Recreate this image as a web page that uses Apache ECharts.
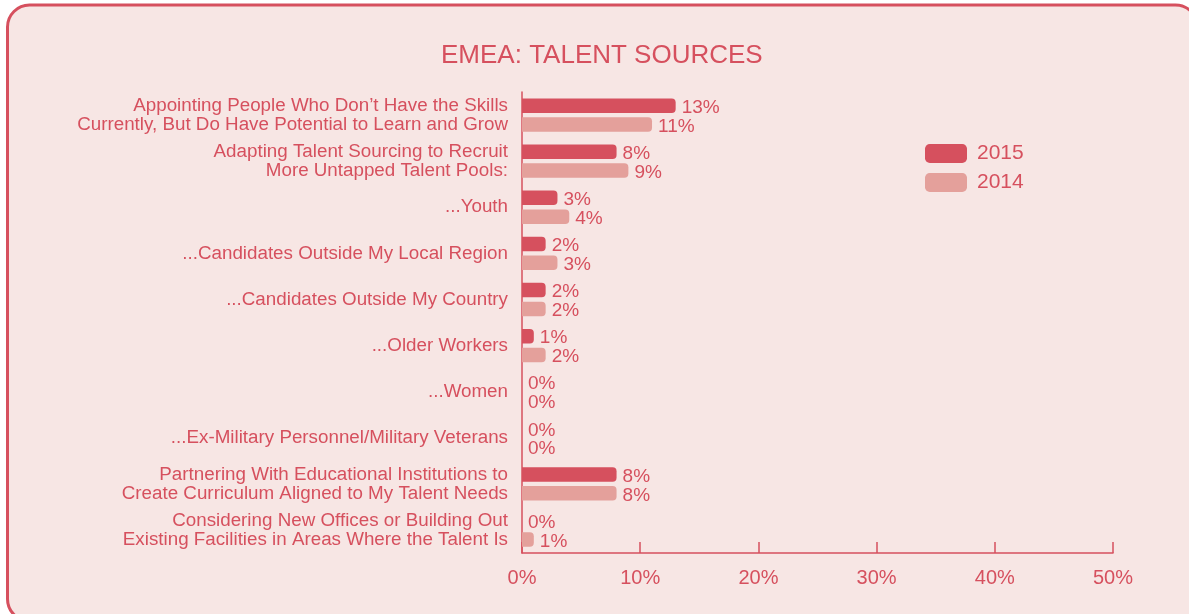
<!DOCTYPE html>
<html><head><meta charset="utf-8">
<script src="https://cdn.jsdelivr.net/npm/echarts@6/dist/echarts.min.js"></script>
<style>html,body{margin:0;padding:0;background:#fff;}#c{width:1189px;height:614px;}</style>
</head><body><div id="c"></div>
<script>
const categories = [
  "Appointing People Who Don\u2019t Have the Skills\nCurrently, But Do Have Potential to Learn and Grow",
  "Adapting Talent Sourcing to Recruit\nMore Untapped Talent Pools:",
  "...Youth",
  "...Candidates Outside My Local Region",
  "...Candidates Outside My Country",
  "...Older Workers",
  "...Women",
  "...Ex-Military Personnel/Military Veterans",
  "Partnering With Educational Institutions to\nCreate Curriculum Aligned to My Talent Needs",
  "Considering New Offices or Building Out\nExisting Facilities in Areas Where the Talent Is"
];
const values2015 = [13, 8, 3, 2, 2, 1, 0, 0, 8, 0];
const values2014 = [11, 9, 4, 3, 2, 2, 0, 0, 8, 1];
const seriesNames = ["2015", "2014"];
const title = "EMEA: TALENT SOURCES";

const RED = "#d6505e", PINK = "#e4a09b", FONT = "Liberation Sans, Arial, sans-serif";
const chart = echarts.init(document.getElementById('c'));
const lbl = {show: true, position: 'right', distance: 6, offset: [0, 2], color: RED, fontSize: 19, fontFamily: FONT, formatter: '{c}%'};
chart.setOption({
  backgroundColor: '#ffffff',
  animation: false,
  graphic: [{
    type: 'rect', z: -10,
    shape: {x: 7.5, y: 5, width: 1190, height: 616, r: 22},
    style: {fill: '#f7e6e4', stroke: RED, lineWidth: 3}
  }],
  title: {text: title, left: 436, top: 38, textStyle: {color: RED, fontSize: 26, fontWeight: 'normal', fontFamily: FONT}},
  legend: {
    data: seriesNames, orient: 'vertical', left: 920, top: 138, itemWidth: 42, itemHeight: 19, itemGap: 8,
    icon: 'roundRect', textStyle: {color: RED, fontSize: 21, fontFamily: FONT, padding: [0, 0, 0, 5]}
  },
  grid: {left: 522, right: 76, top: 92, bottom: 61, containLabel: false},
  xAxis: {
    type: 'value', min: 0, max: 50, interval: 10,
    axisLine: {show: true, lineStyle: {color: RED, width: 1.5}},
    axisTick: {show: true, inside: true, length: 11, lineStyle: {color: RED, width: 1.5}},
    splitLine: {show: false},
    axisLabel: {color: RED, fontSize: 20, fontFamily: FONT, margin: 15, formatter: '{value}%'}
  },
  yAxis: {
    type: 'category', data: categories, inverse: true,
    axisLine: {show: true, lineStyle: {color: RED, width: 1.5}},
    axisTick: {show: false},
    axisLabel: {color: RED, fontSize: 18.8, fontFamily: FONT, margin: 14, lineHeight: 19, align: 'right'}
  },
  series: [
    {name: seriesNames[0], type: 'bar', data: values2015, barWidth: 14.5, barGap: '30%',
     itemStyle: {color: RED, borderRadius: [0, 4, 4, 0]}, label: lbl},
    {name: seriesNames[1], type: 'bar', data: values2014, barWidth: 14.5,
     itemStyle: {color: PINK, borderRadius: [0, 4, 4, 0]}, label: lbl}
  ]
});
</script></body></html>
